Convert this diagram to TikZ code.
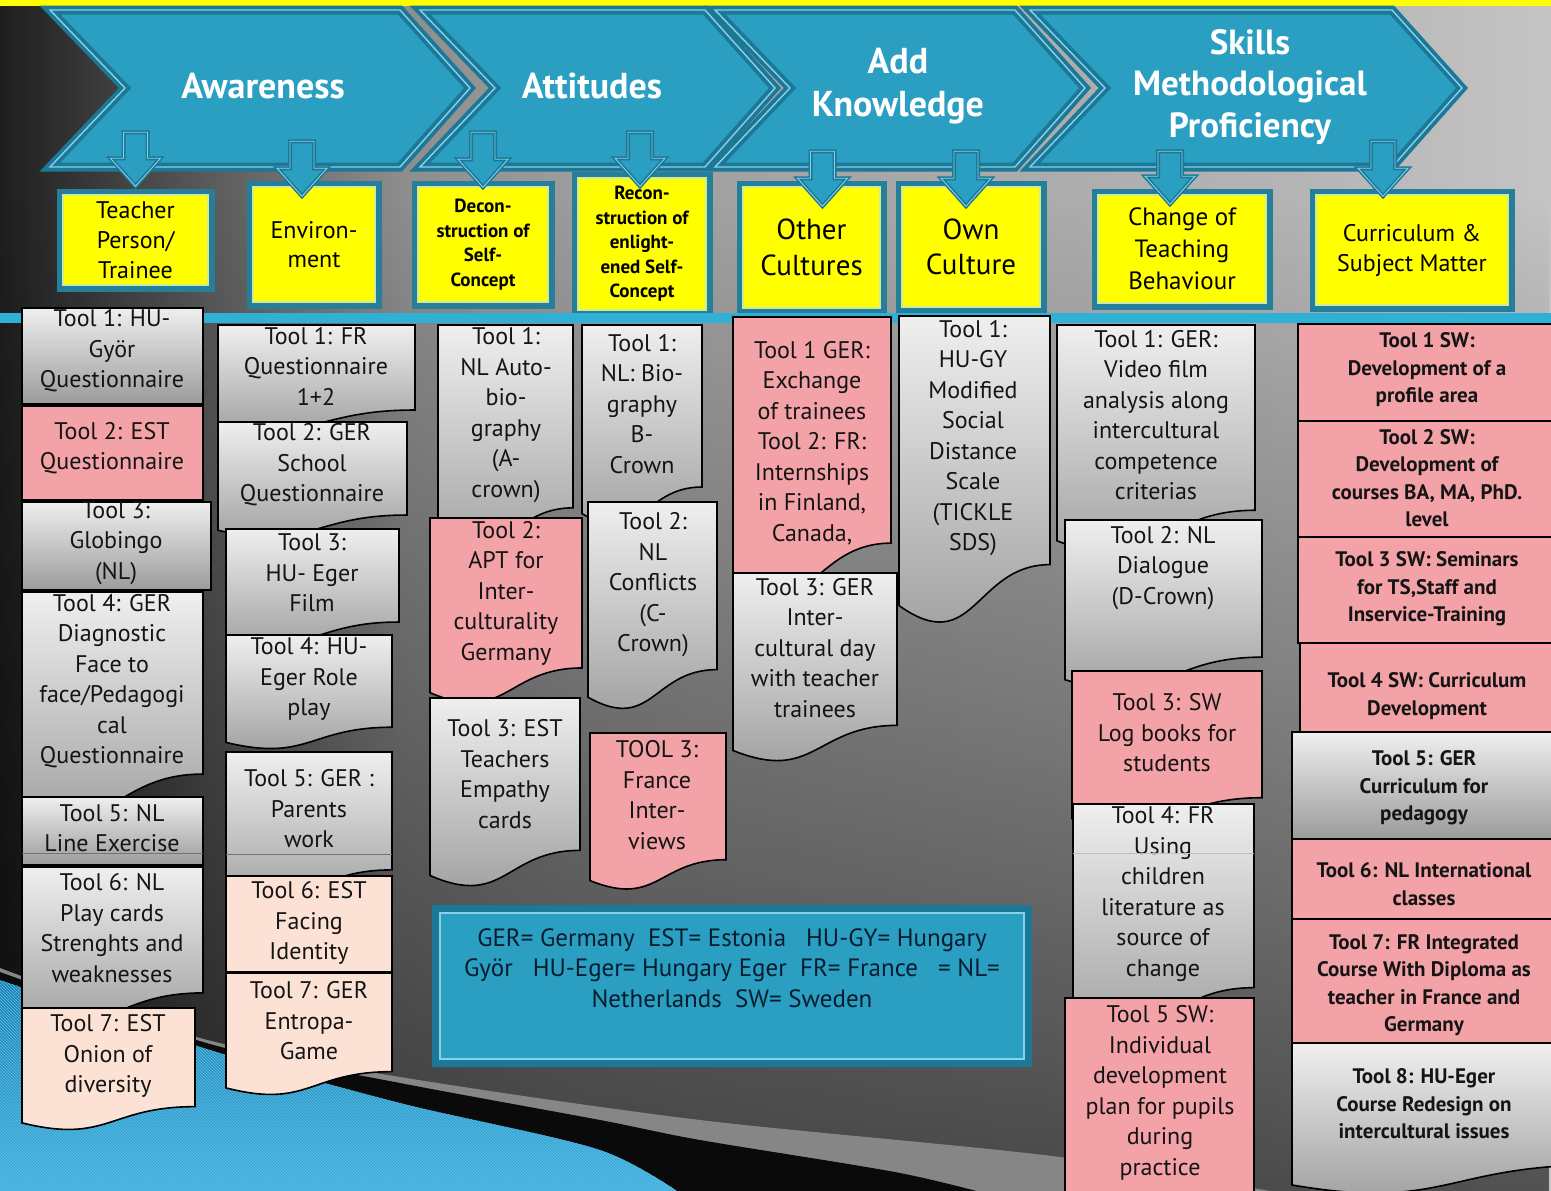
\documentclass[tikz,border=0pt]{standalone}
\usepackage{fontspec}
\setmainfont{PT Sans}
\usetikzlibrary{calc,fadings,patterns}

% palette
\definecolor{bgA}{HTML}{1E1E1E}
\definecolor{bgB}{HTML}{5C5C5C}
\definecolor{bgC}{HTML}{8D8D8D}
\definecolor{bgD}{HTML}{9C9C9C}
\definecolor{bgE}{HTML}{A2A2A2}
\definecolor{bgF}{HTML}{B4B4B4}
\definecolor{bgG}{HTML}{C4C4C4}
\definecolor{topyellow}{HTML}{FFFF00}
\definecolor{bannerfill}{HTML}{2A9FC2}
\definecolor{bannerdark}{HTML}{1C7896}
\definecolor{bannerlight}{HTML}{86D2E8}
\definecolor{catyellow}{HTML}{FFFF00}
\definecolor{catframe}{HTML}{267F9A}
\definecolor{catline}{HTML}{CDEB9C}
\definecolor{rulecyan}{HTML}{2FB1D6}
\definecolor{pinkfill}{HTML}{F3A3A7}
\definecolor{peachfill}{HTML}{FCE2D4}
\definecolor{graytop}{HTML}{EFEFEF}
\definecolor{graybot}{HTML}{9B9B9B}
\definecolor{legendink}{HTML}{081C30}
\definecolor{swgray}{HTML}{868686}
\definecolor{swblueA}{HTML}{1C7EAE}
\definecolor{swblueB}{HTML}{45B3E0}
\definecolor{swstripe}{HTML}{5EC2EA}

% page background: dark on the left, light on the right
\pgfdeclarehorizontalshading{bgshade}{100bp}{color(0bp)=(bgA); color(25bp)=(bgA);
  color(31.9bp)=(bgB); color(37.9bp)=(bgC); color(43.4bp)=(bgD); color(48.2bp)=(bgE);
  color(66.6bp)=(bgF); color(75bp)=(bgG); color(100bp)=(bgG)}
\tikzfading[name=bgdark, top color=transparent!100, bottom color=transparent!42]

% a tool card with the wavy "document" bottom
\newcommand\tooldoc[9]{%
  \path[#2] (#3,#4) -- (#5,#4) -- (#5,{#4+0.802*(#6-#4)})
    .. controls ({(#3+#5)/2},{#4+0.802*(#6-#4)}) and ({(#3+#5)/2},{#4+1.1075*(#6-#4)})
    .. (#3,{#4+0.934*(#6-#4)}) -- cycle;
  \node[tooltext] (#1) at (#7,#8) {#9};}
% a plain rectangular tool card
\newcommand\toolrect[9]{%
  \path[#2] (#3,#4) rectangle (#5,#6);
  \node[tooltext] (#1) at (#7,#8) {#9};}
% one chevron of the banner: left edge x, start of the point x
\newcommand\chev[2]{%
  \path[chevron] (#1,10) -- (#2,10) -- ({#2+70},88) -- (#2,167) -- (#1,167) -- ({#1+75},88) -- cycle;
  \path[chevronline] (#1,10) -- (#2,10) -- ({#2+70},88) -- (#2,167) -- (#1,167) -- ({#1+75},88) -- cycle;}
% block arrow from the banner into a category box: node, x shift, shaft top, tip
\newcommand\barrow[4]{%
  \path[barrowout] ($(#1.north)+(#2-12,#3)$) -- ($(#1.north)+(#2+12,#3)$) -- ($(#1.north)+(#2+12,#4-28)$)
    -- ($(#1.north)+(#2+25,#4-28)$) -- ($(#1.north)+(#2,#4)$) -- ($(#1.north)+(#2-25,#4-28)$)
    -- ($(#1.north)+(#2-12,#4-28)$) -- cycle;
  \path[barrowin] ($(#1.north)+(#2-12,#3)$) -- ($(#1.north)+(#2+12,#3)$) -- ($(#1.north)+(#2+12,#4-28)$)
    -- ($(#1.north)+(#2+25,#4-28)$) -- ($(#1.north)+(#2,#4)$) -- ($(#1.north)+(#2-25,#4-28)$)
    -- ($(#1.north)+(#2-12,#4-28)$) -- cycle;}

\begin{document}
\begin{tikzpicture}[x=1pt,y=-1pt,
  chevron/.style={fill=bannerfill, draw=bannerdark, line width=9, line join=miter},
  chevronline/.style={draw=bannerlight, line width=1.4, line join=miter},
  barrowout/.style={fill=bannerfill, draw=bannerdark, line width=4, line join=miter},
  barrowin/.style={draw=bannerlight, line width=0.9, line join=miter},
  headtxt/.style={text=white, align=center, inner sep=0, font=\bfseries\fontsize{36}{43}\selectfont},
  catbox/.style={fill=catyellow, draw=catline, line width=1.5, preaction={draw=catframe, line width=13},
    align=center, inner sep=0, text=black, font=\fontsize{24}{30}\selectfont},
  toolgray/.style={draw=black, line width=1.6, top color=graytop, bottom color=graybot},
  toolpink/.style={draw=black, line width=1.6, fill=pinkfill},
  toolpeach/.style={draw=black, line width=1.6, fill=peachfill},
  tooltext/.style={align=center, inner sep=0, text=black!92, font=\fontsize{24}{30.5}\selectfont},
  boxseam/.style={draw=black!55, line width=1},
  legendbox/.style={fill=bannerfill, draw=bannerlight, line width=1.2, preaction={draw=bannerdark, line width=16}},
  legendtxt/.style={align=center, inner sep=0, text=legendink, font=\fontsize{25}{30.5}\selectfont}]
\useasboundingbox (0,0) rectangle (1551,1191);
\clip (0,0) rectangle (1551,1191);

% background
\shade[shading=bgshade] (0,0) rectangle (1551,1191);
\fill[black, path fading=bgdark] (0,200) rectangle (1551,1191);
\fill[topyellow] (0,0) rectangle (1551,6);

% swoosh in the lower left corner
\fill[swgray] plot[smooth] coordinates {(0,968) (200,1038) (400,1077) (700,1120) (1060,1157) (1320,1200)} -- (0,1200) -- cycle;
\fill[black!96] plot[smooth] coordinates {(0,972) (210,1044) (400,1083) (600,1120) (700,1140) (900,1173) (1010,1200)} -- (0,1200) -- cycle;
\path[top color=swblueA, bottom color=swblueB, postaction={pattern=north west lines, pattern color=swstripe}]
  plot[smooth] coordinates {(0,980) (210,1050) (400,1103) (600,1150) (690,1200)} -- (0,1200) -- cycle;

% banner
\chev{50}{400}
\chev{420}{705}
\chev{715}{1015}
\chev{1030}{1392}
\node[headtxt] (awareness) at (263,86) {Awareness};
\node[headtxt] (attitudes) at (592,86) {Attitudes};
\node[headtxt] (knowledge) at (898,86) {Add\\Knowledge};
\node[headtxt, font=\bfseries\fontsize{35}{41.5}\selectfont] (skills) at (1250,87) {Skills\\Methodological\\Proficiency};

% category boxes
\node[catbox, minimum width=145, minimum height=90] (c1) at (135.5,240) {Teacher\\Person/\\Trainee};
\node[catbox, minimum width=122, minimum height=115, font=\fontsize{24}{29}\selectfont] (c2) at (314,244.5) {Environ-\\ment};
\node[catbox, minimum width=130, minimum height=115, font=\bfseries\fontsize{19}{24.5}\selectfont] (c3) at (483,244.5) {Decon-\\struction of\\Self-\\Concept};
\node[catbox, minimum width=128, minimum height=132, font=\bfseries\fontsize{19}{24.5}\selectfont] (c4) at (642,244) {Recon-\\struction of\\enlight-\\ened Self-\\Concept};
\node[catbox, minimum width=137, minimum height=121, font=\fontsize{29}{36}\selectfont] (c5) at (811.5,247.5) {Other\\Cultures};
\node[catbox, minimum width=138, minimum height=120, font=\fontsize{29}{35}\selectfont] (c6) at (971,247) {Own\\Culture};
\node[catbox, minimum width=168, minimum height=108, font=\fontsize{25}{32}\selectfont] (c7) at (1182,249) {Change of\\Teaching\\Behaviour};
\node[catbox, minimum width=192, minimum height=110] (c8) at (1412,250) {Curriculum \&\\Subject Matter};

% arrows from the banner into the boxes
\barrow{c1}{0}{-62}{-8}
\barrow{c2}{-12}{-45}{10}
\barrow{c3}{0}{-54}{1}
\barrow{c4}{-2}{-45}{9}
\barrow{c5}{11}{-35}{20}
\barrow{c6}{-5}{-35}{20}
\barrow{c7}{-12}{-43}{10}
\barrow{c8}{-29}{-53}{2}

% rule under the category row
\fill[rulecyan] (0,313) rectangle (1551,323);

% column 1
\toolrect{ta1}{toolgray}{22}{308}{203}{404}{112}{351}{Tool 1: HU-\\Györ\\Questionnaire}
\toolrect{ta2}{toolpink}{22}{406}{203}{500}{112}{448}{Tool 2: EST\\Questionnaire}
\toolrect{ta3}{toolgray}{22}{502}{211}{590}{116}{543}{Tool 3:\\Globingo\\(NL)}
\tooldoc{ta4}{toolgray}{22}{592}{203}{819}{112}{681}{Tool 4: GER\\Diagnostic\\Face to\\face/Pedagogi\\cal\\Questionnaire}
\toolrect{ta5}{toolgray}{22}{797}{203}{865}{112}{828}{Tool 5: NL\\Line Exercise}
\draw[boxseam] (22,853) -- (203,853);
\tooldoc{ta6}{toolgray}{22}{867}{203}{1024}{112}{928}{Tool 6: NL\\Play cards\\Strenghts and\\weaknesses}
\tooldoc{ta7}{toolpeach}{22}{1008}{195}{1131}{108}{1056}{Tool 7: EST\\Onion of\\diversity}

% column 2
\tooldoc{tb1}{toolgray}{218}{325}{415}{431}{316}{366}{Tool 1: FR\\Questionnaire\\1+2}
\tooldoc{tb2}{toolgray}{218}{422}{407}{538}{312}{465}{Tool 2: GER\\School\\Questionnaire}
\tooldoc{tb3}{toolgray}{226}{529}{399}{645}{312}{573}{Tool 3:\\HU- Eger\\Film}
\tooldoc{tb4}{toolgray}{226}{635}{392}{750}{309}{679}{Tool 4: HU-\\Eger Role\\play}
\tooldoc{tb5}{toolgray}{226}{752}{392}{899}{309}{809}{Tool 5: GER :\\Parents\\work}
\draw[boxseam] (226,854) -- (392,854);
\toolrect{tb6}{toolpeach}{226}{876}{392}{972}{309}{923}{Tool 6: EST\\Facing\\Identity}
\tooldoc{tb7}{toolpeach}{226}{973}{392}{1096}{309}{1021}{Tool 7: GER\\Entropa-\\Game}

% column 3
\tooldoc{tc1}{toolgray}{438}{325}{573}{553}{506}{415}{Tool 1:\\NL Auto-\\bio-\\graphy\\(A-\\crown)}
\tooldoc{tc2}{toolpink}{430}{518}{582}{705}{506}{593}{Tool 2:\\APT for\\Inter-\\culturality\\Germany}
\tooldoc{tc3}{toolgray}{430}{698}{580}{888}{505}{774}{Tool 3: EST\\Teachers\\Empathy\\cards}

% column 4
\tooldoc{td1}{toolgray}{582}{325}{702}{527}{642}{404}{Tool 1:\\NL: Bio-\\graphy\\B-\\Crown}
\tooldoc{td2}{toolgray}{588}{502}{717}{711}{653}{585}{Tool 2:\\NL\\Conflicts\\(C-\\Crown)}
\tooldoc{td3}{toolpink}{590}{733}{726}{891}{657}{795}{TOOL 3:\\France\\Inter-\\views}

% column 5
\tooldoc{te1}{toolpink}{733}{317}{891}{599}{812}{443}{Tool 1 GER:\\Exchange\\of trainees\\Tool 2: FR:\\Internships\\in Finland,\\Canada,}
\tooldoc{te3}{toolgray}{733}{573}{897}{763}{815}{648}{Tool 3: GER\\Inter-\\cultural day\\with teacher\\trainees}

% column 6
\tooldoc{tf1}{toolgray}{899}{316}{1050}{626}{973}{438}{Tool 1:\\HU-GY\\Modified\\Social\\Distance\\Scale\\(TICKLE\\SDS)}

% column 7
\tooldoc{tg1}{toolgray}{1057}{325}{1255}{556}{1156}{415}{Tool 1: GER:\\Video film\\analysis along\\intercultural\\competence\\criterias}
\tooldoc{tg2}{toolgray}{1065}{520}{1262}{691}{1163}{568}{Tool 2: NL\\Dialogue\\(D-Crown)}
\tooldoc{tg3}{toolpink}{1072}{671}{1262}{829}{1167}{733}{Tool 3: SW\\Log books for\\students}
\tooldoc{tg4}{toolgray}{1073}{804}{1254}{1033}{1163}{894}{Tool 4: FR\\Using\\children\\literature as\\source of\\change}
\draw[boxseam, draw=black!25] (1073,853) -- (1254,853);
\toolrect{tg5}{toolpink}{1065}{998}{1254}{1200}{1160}{1093}{Tool 5 SW:\\Individual\\development\\plan for pupils\\during\\practice}

% column 8
\begin{scope}[tooltext/.append style={font=\bfseries\fontsize{21}{27.5}\selectfont}]
\toolrect{th1}{toolpink}{1298}{324}{1560}{421}{1427}{370}{Tool 1 SW:\\Development of a\\profile area}
\toolrect{th2}{toolpink}{1298}{421}{1560}{537}{1427}{478}{Tool 2 SW:\\Development of\\courses BA, MA, PhD.\\level}
\toolrect{th3}{toolpink}{1298}{537}{1560}{643}{1427}{589}{Tool 3 SW: Seminars\\for TS,Staff and\\Inservice-Training}
\toolrect{th4}{toolpink}{1300}{643}{1560}{732}{1427}{696}{Tool 4 SW: Curriculum\\Development}
\toolrect{th5}{toolgray}{1292}{732}{1560}{839}{1424}{788}{Tool 5: GER\\Curriculum for\\pedagogy}
\toolrect{th6}{toolpink}{1292}{839}{1560}{919}{1424}{884}{Tool 6: NL International\\classes}
\toolrect{th7}{toolpink}{1292}{919}{1560}{1043}{1424}{985}{Tool 7: FR Integrated\\Course With Diploma as\\teacher in France and\\Germany}
\tooldoc{th8}{toolgray}{1292}{1043}{1600}{1195}{1424}{1104}{Tool 8: HU-Eger\\Course Redesign on\\intercultural issues}
\end{scope}

% legend
\node[legendbox, minimum width=584, minimum height=146] (legend) at (732,986) {};
\node[legendtxt] (legendtext) at (732,968) {GER= Germany\ \ EST= Estonia\ \ \ HU-GY= Hungary\\Györ\ \ \ HU-Eger= Hungary Eger\ \ FR= France\ \ \ = NL=\\Netherlands\ \ SW= Sweden};
\end{tikzpicture}
\end{document}
